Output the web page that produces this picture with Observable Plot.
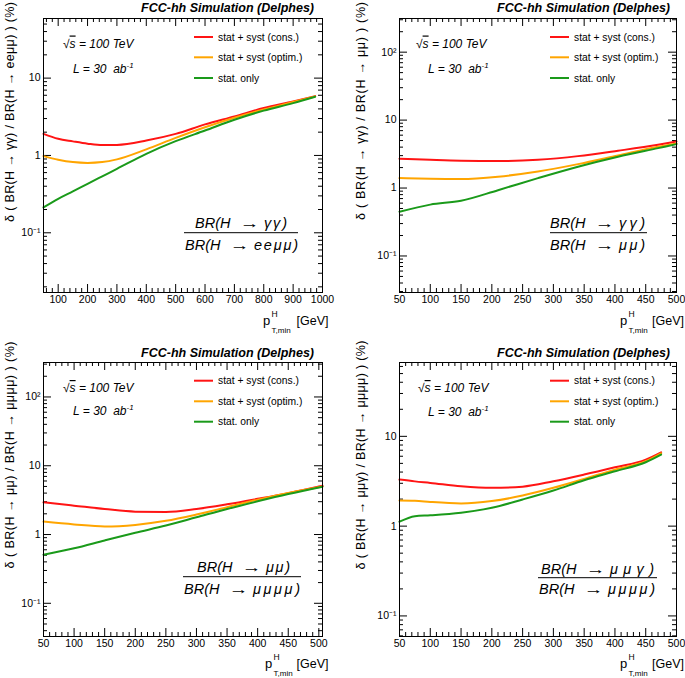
<!DOCTYPE html>
<html><head><meta charset="utf-8">
<script src="https://cdn.jsdelivr.net/npm/d3@7"></script>
<script src="https://cdn.jsdelivr.net/npm/@observablehq/plot@0.6"></script>
<style>
body{margin:0;background:#fff}
#root{position:relative;width:685px;height:678px;background:#fff;overflow:hidden}
.panel{position:absolute}
.panel svg{overflow:visible}
</style>
</head><body><div id="root"></div>
<script>
// ---------- data ----------
const seriesNames = ["stat + syst (cons.)", "stat + syst (optim.)", "stat. only"];
const seriesColors = ["#ff1414", "#ffa500", "#1a9a1a"];

// Panel 1: BR(H->γγ)/BR(H->eeμμ)
const p1X     = [50, 100, 150, 200, 250, 300, 400, 500, 600, 700, 800, 900, 975];
const p1Cons  = [1.90, 1.64, 1.52, 1.42, 1.36, 1.37, 1.56, 1.90, 2.52, 3.20, 4.10, 5.00, 5.85];
const p1Optim = [0.98, 0.88, 0.82, 0.80, 0.82, 0.89, 1.20, 1.69, 2.32, 3.07, 3.93, 4.90, 5.80];
const p1Stat  = [0.213, 0.275, 0.343, 0.43, 0.537, 0.67, 1.05, 1.53, 2.10, 2.90, 3.80, 4.75, 5.75];

// Panel 2: BR(H->γγ)/BR(H->μμ)
const p2X     = [50, 100, 150, 210, 275, 340, 405, 470, 500];
const p2Cons  = [2.70, 2.60, 2.52, 2.49, 2.61, 2.95, 3.54, 4.33, 4.84];
const p2Optim = [1.40, 1.37, 1.36, 1.47, 1.75, 2.25, 3.02, 4.05, 4.53];
const p2Stat  = [0.448, 0.57, 0.65, 0.93, 1.40, 2.06, 2.89, 3.87, 4.43];

// Panel 3: BR(H->μμ)/BR(H->μμμμ)
const p3X     = [50, 100, 150, 200, 250, 300, 350, 400, 450, 506];
const p3Cons  = [2.94, 2.63, 2.35, 2.15, 2.13, 2.35, 2.75, 3.30, 4.00, 5.13];
const p3Optim = [1.54, 1.40, 1.31, 1.38, 1.58, 1.95, 2.49, 3.21, 4.02, 5.00];
const p3Stat  = [0.507, 0.63, 0.82, 1.06, 1.35, 1.78, 2.35, 3.04, 3.88, 4.96];

// Panel 4: BR(H->μμγ)/BR(H->μμμμ)
const p4X     = [50, 75, 100, 150, 200, 250, 300, 350, 400, 450, 475];
const p4Cons  = [3.30, 3.15, 3.03, 2.78, 2.67, 2.75, 3.16, 3.75, 4.52, 5.50, 6.64];
const p4Optim = [1.93, 1.92, 1.86, 1.79, 1.90, 2.19, 2.67, 3.36, 4.26, 5.28, 6.47];
const p4Stat  = [1.12, 1.29, 1.32, 1.41, 1.60, 1.98, 2.49, 3.24, 4.08, 5.14, 6.25];

// tick labels
const xLabels1000 = [100, 200, 300, 400, 500, 600, 700, 800, 900, 1000];
const xLabels500  = [50, 100, 150, 200, 250, 300, 350, 400, 450, 500];
const yLabels3 = [0.1, 1, 10];
const yLabels4 = [0.1, 1, 10, 100];

const titleText = "FCC-hh Simulation (Delphes)";
const yTitles = [
  "δ ( BR(H → γγ) / BR(H → eeμμ) ) (%)",
  "δ ( BR(H → γγ) / BR(H → μμ) ) (%)",
  "δ ( BR(H → μμ) / BR(H → μμμμ) ) (%)",
  "δ ( BR(H → μμγ) / BR(H → μμμμ) ) (%)"
];
const numRight = ["γγ)", "γγ)", "μμ)", "μμγ)"];
const denRight = ["eeμμ)", "μμ)", "μμμμ)", "μμμμ)"];

// ---------- helpers ----------
function toRows(xs, a, b, c) {
  const out = [];
  [a, b, c].forEach((ys, k) => xs.forEach((x, i) => out.push({x, v: ys[i], s: seriesNames[k]})));
  return out;
}
const FONT = "'Liberation Sans', Arial, Helvetica, sans-serif";
const fmtY = d => d === 0.1 ? "10⁻¹" : d === 100 ? "10²" : String(d);

function logMinors(domain) {
  const out = [];
  for (let e = Math.floor(Math.log10(domain[0])); e <= Math.ceil(Math.log10(domain[1])); e++)
    for (let m = 2; m <= 9; m++) { const v = m * Math.pow(10, e); if (v > domain[0] && v < domain[1]) out.push(v); }
  return out;
}
function logMajors(domain) {
  const out = [];
  for (let e = Math.ceil(Math.log10(domain[0])); e <= Math.floor(Math.log10(domain[1])); e++) out.push(Math.pow(10, e));
  return out;
}
function linTicks(domain, step) {
  const out = [];
  const s = Math.ceil(domain[0] / step) * step;
  for (let v = s; v <= domain[1] + 1e-9; v += step) out.push(+v.toFixed(6));
  return out;
}

const FR = 14.5;
function ratioLine(g, x0, x1, y, right) {
  g.append("text").attr("x", x0).attr("y", y).attr("font-size", FR).attr("font-style", "italic").text("BR(H");
  g.append("text").attr("transform", `translate(${x0 + 54.5},${y}) scale(1.35,1)`).attr("text-anchor", "middle")
    .attr("font-size", FR).text("→");
  g.append("text").attr("x", x0 + 69).attr("y", y).attr("font-size", FR).attr("font-style", "italic")
    .attr("textLength", x1 - x0 - 69).attr("lengthAdjust", "spacing").text(right);
}

function panel(cfg) {
  const H = 339;
  const fh = H - cfg.mt - cfg.mb, fw = cfg.w - cfg.ml - cfg.mr;
  const xMaj = linTicks(cfg.xDomain, cfg.xMajorStep), xMin = linTicks(cfg.xDomain, cfg.xMinorStep).filter(v => !xMaj.includes(v));
  const yMaj = logMajors(cfg.yDomain), yMin = logMinors(cfg.yDomain);
  const L = 8, l = 4;
  const plot = Plot.plot({
    width: cfg.w, height: H,
    marginLeft: cfg.ml, marginRight: cfg.mr, marginTop: cfg.mt, marginBottom: cfg.mb,
    style: {fontFamily: FONT, fontSize: "10.5px", color: "black", background: "white", overflow: "visible"},
    x: {domain: cfg.xDomain, label: null},
    y: {type: "log", domain: cfg.yDomain, label: null},
    color: {domain: seriesNames, range: seriesColors},
    marks: [
      Plot.tickX(xMaj, {x: d => d, insetTop: fh - L, stroke: "black"}),
      Plot.tickX(xMaj, {x: d => d, insetBottom: fh - L, stroke: "black"}),
      Plot.tickX(xMin, {x: d => d, insetTop: fh - l, stroke: "black"}),
      Plot.tickX(xMin, {x: d => d, insetBottom: fh - l, stroke: "black"}),
      Plot.tickY(yMaj, {y: d => d, insetRight: fw - L, stroke: "black"}),
      Plot.tickY(yMaj, {y: d => d, insetLeft: fw - L, stroke: "black"}),
      Plot.tickY(yMin, {y: d => d, insetRight: fw - l, stroke: "black"}),
      Plot.tickY(yMin, {y: d => d, insetLeft: fw - l, stroke: "black"}),
      Plot.axisX({ticks: cfg.xLabels, tickSize: 0, tickPadding: 3, tickFormat: d => String(d), label: null}),
      Plot.axisY({ticks: cfg.yLabels, tickSize: 0, tickPadding: 3, tickFormat: fmtY, label: null}),
      Plot.line(cfg.rows, {x: "x", y: "v", stroke: "s", z: "s", strokeWidth: 2, curve: "monotone-x"}),
      Plot.frame({stroke: "black", strokeWidth: 1})
    ]
  });
  const div = document.createElement("div");
  div.className = "panel";
  div.style.left = cfg.ox + "px"; div.style.top = cfg.oy + "px";
  div.appendChild(plot);
  document.getElementById("root").appendChild(div);

  const svg = d3.select(div).select("svg");
  const g = svg.append("g").attr("transform", `translate(${-cfg.ox},${-cfg.oy})`)
    .attr("font-family", FONT).attr("fill", "black").attr("text-anchor", "start");
  const a = cfg.ann;

  // title
  g.append("text").attr("x", a.titleEnd).attr("y", a.titleY).attr("text-anchor", "end")
    .attr("font-size", 12.5).attr("font-weight", "bold").attr("font-style", "italic").text(titleText);

  // sqrt(s) and luminosity
  const t1 = g.append("text").attr("x", a.sx).attr("y", a.sy).attr("font-size", 12).attr("font-style", "italic");
  t1.append("tspan").attr("font-style", "normal").text("√");
  t1.append("tspan").attr("style", "text-decoration: overline").text("s");
  t1.append("tspan").text(" = 100 TeV");
  const t2 = g.append("text").attr("x", a.lx).attr("y", a.ly).attr("font-size", 12).attr("font-style", "italic");
  t2.append("tspan").text("L = 30  ab");
  t2.append("tspan").attr("dy", -5).attr("font-size", 8).text("-1");

  // legend
  seriesNames.forEach((name, k) => {
    const yy = a.legY[k];
    g.append("line").attr("x1", a.legX).attr("x2", a.legX + 19).attr("y1", yy).attr("y2", yy)
      .attr("stroke", seriesColors[k]).attr("stroke-width", 2);
    g.append("text").attr("x", a.legX + 24).attr("y", yy + 3.6).attr("font-size", 10.3).text(name);
  });

  // fraction
  ratioLine(g, a.num[0], a.num[1], a.numY, numRight[cfg.idx]);
  g.append("line").attr("x1", a.barX1).attr("x2", a.barX2).attr("y1", a.barY).attr("y2", a.barY)
    .attr("stroke", "black").attr("stroke-width", 1);
  ratioLine(g, a.den[0], a.den[1], a.denY, denRight[cfg.idx]);

  // x title
  g.append("text").attr("x", a.px).attr("y", a.pY).attr("font-size", 13).text("p");
  g.append("text").attr("x", a.px + 8.5).attr("y", a.pY - 8).attr("font-size", 8.5).text("H");
  g.append("text").attr("x", a.px + 8.5).attr("y", a.pY + 8).attr("font-size", 8).text("T,min");
  g.append("text").attr("x", a.gevEnd).attr("y", a.pY).attr("text-anchor", "end").attr("font-size", 12.5).text("[GeV]");

  // y title
  g.append("text").attr("transform", `translate(${a.ytX},${a.ytC}) rotate(-90)`)
    .attr("text-anchor", "middle").attr("font-size", 12.5)
    .attr("textLength", a.ytLen).attr("lengthAdjust", "spacing").text(yTitles[cfg.idx]);
}

// ---------- panels ----------
panel({
  idx: 0, ox: 0, oy: 0, w: 342, ml: 43, mr: 20, mt: 18, mb: 47,
  xDomain: [50, 1000], yDomain: [0.0169, 59], xMajorStep: 100, xMinorStep: 20,
  xLabels: xLabels1000, yLabels: yLabels3, rows: toRows(p1X, p1Cons, p1Optim, p1Stat),
  ann: {titleEnd: 314, titleY: 11.5, sx: 63, sy: 47.5, lx: 73, ly: 72.5, legX: 194, legY: [37, 57.3, 78],
        num: [195, 287], numY: 228, barX1: 184, barX2: 298, barY: 232.7, den: [185, 298], denY: 250,
        px: 263, pY: 325, gevEnd: 328.5, ytX: 14, ytC: 112, ytLen: 220}
});
panel({
  idx: 1, ox: 342, oy: 0, w: 343, ml: 57, mr: 9, mt: 18, mb: 47,
  xDomain: [50, 500], yDomain: [0.029, 313], xMajorStep: 50, xMinorStep: 10,
  xLabels: xLabels500, yLabels: yLabels4, rows: toRows(p2X, p2Cons, p2Optim, p2Stat),
  ann: {titleEnd: 670, titleY: 11.5, sx: 416, sy: 47.5, lx: 428, ly: 72.5, legX: 550, legY: [37, 57.3, 78],
        num: [550, 645], numY: 228, barX1: 550, barX2: 647, barY: 232.7, den: [550, 645], denY: 250,
        px: 620, pY: 325, gevEnd: 684, ytX: 364.5, ytC: 111, ytLen: 218}
});
panel({
  idx: 2, ox: 0, oy: 339, w: 342, ml: 43, mr: 20, mt: 23, mb: 42,
  xDomain: [50, 506], yDomain: [0.0329, 317], xMajorStep: 50, xMinorStep: 10,
  xLabels: xLabels500, yLabels: yLabels4, rows: toRows(p3X, p3Cons, p3Optim, p3Stat),
  ann: {titleEnd: 314, titleY: 356.5, sx: 63, sy: 392, lx: 73, ly: 415, legX: 194, legY: [380.7, 401.3, 421.7],
        num: [197, 290], numY: 572, barX1: 183, barX2: 301, barY: 576.7, den: [184, 300], denY: 593.5,
        px: 265, pY: 668, gevEnd: 328.5, ytX: 14, ytC: 455, ytLen: 227}
});
panel({
  idx: 3, ox: 342, oy: 339, w: 343, ml: 57, mr: 9, mt: 23, mb: 42,
  xDomain: [50, 500], yDomain: [0.059, 66.4], xMajorStep: 50, xMinorStep: 10,
  xLabels: xLabels500, yLabels: yLabels3, rows: toRows(p4X, p4Cons, p4Optim, p4Stat),
  ann: {titleEnd: 670, titleY: 356.5, sx: 418, sy: 392, lx: 428, ly: 416, legX: 550, legY: [380.7, 401.3, 421.7],
        num: [541, 654], numY: 573.5, barX1: 538, barX2: 657, barY: 577.7, den: [539, 655], denY: 593.5,
        px: 620, pY: 668, gevEnd: 684, ytX: 364.5, ytC: 455, ytLen: 229}
});
</script>
</body></html>
